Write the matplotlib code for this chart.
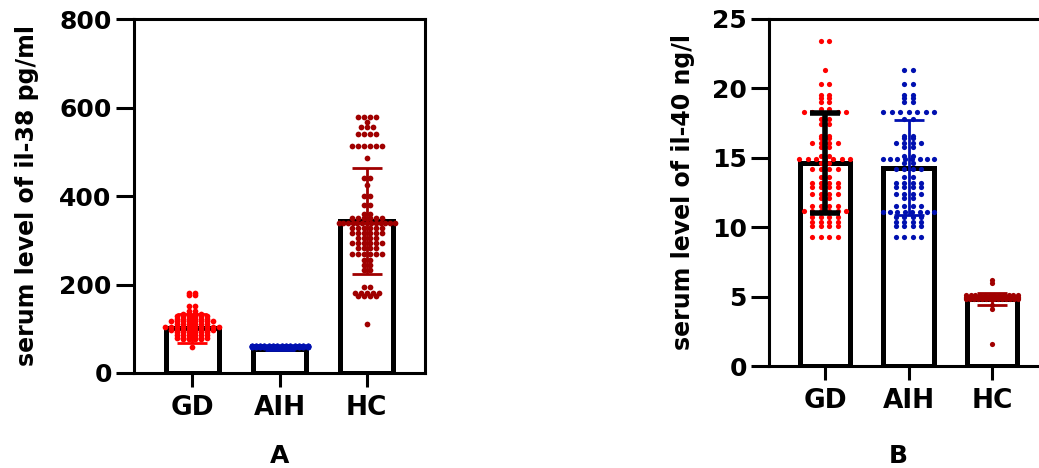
# il38_il40_bars.py
# Bar + scatter chart of serum IL-38 (A) and IL-40 (B) levels.

import numpy as np
import matplotlib
matplotlib.use("Agg")
import matplotlib.pyplot as plt

groups = ["GD", "AIH", "HC"]

# panel A: serum level of il-38 pg/ml
il38_mean = [101, 54, 343]
il38_sd = [33, 2, 120]
il38_gd = [180, 180, 177, 177, 151, 151, 140, 140, 133, 133, 133, 133,
           128, 128, 128, 128, 128, 128, 122, 122, 122, 122, 122, 122,
           117, 117, 117, 117, 117, 117, 117, 117, 110, 110, 110, 110, 110, 110,
           104, 104, 104, 104, 104, 104, 104, 104, 104, 104,
           98, 98, 98, 98, 98, 98, 98, 98, 92, 92, 92, 92, 92, 92,
           86, 86, 86, 86, 86, 86, 80, 80, 80, 80, 80, 80, 76, 76, 76, 76, 59]
il38_aih = [62, 62, 62, 62, 62, 62, 62, 62, 62, 62, 62, 62, 62, 62,
            61, 61, 61, 61, 61, 61, 61, 61, 61, 61, 61, 61, 61, 61,
            60, 60, 60, 60, 60, 60, 60, 60, 60, 60, 60, 60, 60, 60,
            59, 59, 59, 59, 59, 59, 59, 59, 59, 59, 59, 59, 59, 59,
            58, 58, 58, 58, 58, 58, 58, 58, 58, 58, 58, 58, 58, 58]
il38_hc = [578, 578, 578, 578, 568, 555, 555, 555, 540, 540, 540, 540,
           513, 513, 513, 513, 513, 513, 487, 440, 440, 425, 400, 400,
           380, 380, 360, 360, 350, 350, 350, 350, 350, 350,
           340, 340, 340, 340, 340, 340, 340, 340, 340, 340, 340, 340, 340,
           328, 328, 328, 328, 328, 328, 316, 316, 316, 316, 316, 316,
           304, 304, 304, 304, 293, 293, 293, 293, 293, 293, 282, 282, 282, 282,
           270, 270, 270, 270, 270, 270, 255, 255, 244, 244, 233, 233,
           195, 195, 180, 180, 180, 180, 180, 173, 173, 173, 173, 111]

# panel B: serum level of il-40 ng/l
il40_mean = [14.6, 14.3, 4.85]
il40_sd = [3.6, 3.4, 0.42]
il40_gd = [23.4, 23.4, 21.3, 20.3, 20.3, 19.5, 19.5, 19.3, 19.3, 19.0, 19.0,
           18.5, 18.5, 18.3, 18.3, 18.3, 18.3, 18.3, 18.3, 17.8, 17.8, 17.4, 17.4,
           16.6, 16.6, 16.4, 16.4, 16.1, 16.1, 16.1, 16.1, 15.8, 15.8, 15.1, 15.1,
           14.9, 14.9, 14.9, 14.9, 14.9, 14.9, 14.9, 14.6, 14.6, 14.2, 14.2, 14.2, 14.2,
           13.6, 13.6, 13.2, 13.2, 13.2, 13.2, 12.9, 12.9, 12.9, 12.9,
           12.4, 12.4, 12.4, 12.4, 12.1, 12.1, 11.5, 11.5, 11.5, 11.5,
           11.2, 11.2, 11.2, 11.2, 11.2, 11.2, 10.7, 10.7, 10.7, 10.7,
           10.4, 10.4, 10.4, 10.4, 10.1, 10.1, 10.1, 10.1, 9.3, 9.3, 9.3, 9.3]
il40_aih = [21.3, 21.3, 20.3, 20.3, 19.5, 19.5, 19.3, 19.3, 19.0, 19.0,
            18.3, 18.3, 18.3, 18.3, 18.3, 18.3, 18.3, 17.8, 17.8,
            16.6, 16.6, 16.4, 16.4, 16.1, 16.1, 16.1, 16.1, 15.8, 15.8, 15.1, 15.1,
            14.9, 14.9, 14.9, 14.9, 14.9, 14.9, 14.9, 14.9, 14.6, 14.6,
            14.2, 14.2, 14.2, 14.2, 13.6, 13.6, 13.2, 13.2, 13.2, 13.2,
            12.9, 12.9, 12.9, 12.9, 12.4, 12.4, 12.4, 12.4, 12.1, 12.1,
            11.5, 11.5, 11.5, 11.5, 11.1, 11.1, 11.1, 11.1, 11.1, 11.1, 11.1, 11.1,
            10.7, 10.7, 10.7, 10.7, 10.4, 10.4, 10.4, 10.4, 10.1, 10.1, 10.1, 10.1,
            9.3, 9.3, 9.3, 9.3]
il40_hc = [6.2, 6.0, 5.1, 5.1, 5.1, 5.1, 5.1, 5.1, 5.1, 5.1, 5.1, 5.1, 5.1, 5.1,
           5.0, 5.0, 5.0, 5.0, 5.0, 5.0, 5.0, 5.0, 5.0, 5.0, 5.0, 5.0, 5.0, 5.0,
           4.9, 4.9, 4.9, 4.9, 4.9, 4.9, 4.9, 4.9, 4.9, 4.9, 4.9, 4.9, 4.9, 4.9,
           4.8, 4.8, 4.8, 4.8, 4.8, 4.8, 4.8, 4.8, 4.8, 4.8, 4.8, 4.8, 4.8, 4.8,
           4.4, 4.1, 1.6]

dot_colors = ["#ff0000", "#0010b0", "#a00000"]
FONT = "DejaVu Sans"


def row_offsets(ax, values, spacing_px, max_px):
    """Spread equal values in centred rows (GraphPad style), x offsets in data units."""
    values = np.asarray(values, dtype=float)
    offsets = np.zeros(len(values))
    for v in np.unique(values):
        idx = np.where(values == v)[0]
        n = len(idx)
        offsets[idx] = (np.arange(n) - (n - 1) / 2) * spacing_px
        w = np.abs(offsets[idx]).max()
        if w > max_px:
            # squeeze the widest rows into the bar
            offsets[idx] *= max_px / w
    px_per_x = ax.transData.transform([(1, 0)])[0][0] - ax.transData.transform([(0, 0)])[0][0]
    return offsets / px_per_x


def draw_panel(ax, means, sds, samples, ylim, yticks, ylabel, err_colors, err_widths,
               spacing_px, max_px, dot_size):
    x = np.arange(len(groups))
    ax.set_xlim(-0.67, 2.67)
    ax.set_ylim(*ylim)
    ax.bar(x, means, width=0.6, color="white", edgecolor="black", linewidth=3.6, zorder=2)

    for i, vals in enumerate(samples):
        dx = row_offsets(ax, vals, spacing_px, max_px)
        ax.scatter(x[i] + dx, vals, s=dot_size, color=dot_colors[i], linewidths=0, zorder=3)
        ax.errorbar(x[i], means[i], yerr=sds[i], color=err_colors[i], linewidth=err_widths[i],
                    capsize=10.5, capthick=err_widths[i], zorder=4)

    ax.set_yticks(yticks)
    ax.set_xticks(x)
    ax.set_xticklabels(groups, fontsize=19, fontweight="bold", family=FONT)
    for lab in ax.get_yticklabels():
        lab.set_fontsize(18)
        lab.set_fontweight("bold")
    ax.tick_params(axis="y", length=13, width=2.2, pad=3)
    ax.tick_params(axis="x", length=10, width=2.2, pad=6)
    for sp in ax.spines.values():
        sp.set_linewidth(2.2)
    ax.set_ylabel(ylabel, fontsize=17, fontweight="bold", family=FONT)


def main():
    plt.rcParams["font.family"] = [FONT]
    fig = plt.figure(figsize=(10.39, 4.68), dpi=100)

    ax_a = fig.add_axes([134 / 1039, 95 / 468, 291 / 1039, 354 / 468])
    ax_b = fig.add_axes([769 / 1039, 102 / 468, 279 / 1039, 347 / 468])

    draw_panel(ax_a, il38_mean, il38_sd, [il38_gd, il38_aih, il38_hc],
               (0, 800), [0, 200, 400, 600, 800], "serum level of il-38 pg/ml",
               ["#ff0000", "#0010b0", "#a00000"], [2, 2, 2], 6.0, 28, 17)
    draw_panel(ax_b, il40_mean, il40_sd, [il40_gd, il40_aih, il40_hc],
               (0, 25), [0, 5, 10, 15, 20, 25], "serum level of il-40 ng/l",
               ["black", "#0010b0", "#a00000"], [4, 2, 2], 8.5, 26, 14)

    ax_a.yaxis.set_label_coords(-0.325, 0.5)
    ax_b.yaxis.set_label_coords(-0.265, 0.5)

    fig.text(280 / 1039, 1 - 456 / 468, "A", ha="center", va="center",
             fontsize=18, fontweight="bold")
    fig.text(898 / 1039, 1 - 456 / 468, "B", ha="center", va="center",
             fontsize=18, fontweight="bold")

    fig.savefig("out.png", dpi=100, facecolor="white")


if __name__ == "__main__":
    main()
